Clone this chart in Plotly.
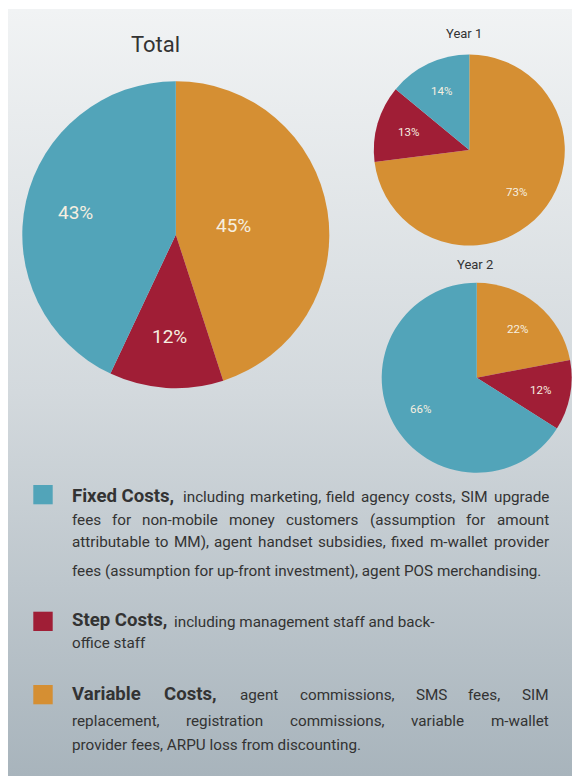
import math
import plotly.graph_objects as go

W, H = 572, 776

# slice order clockwise from 12 o'clock
labels = ["Variable Costs", "Step Costs", "Fixed Costs"]
colors = ["#d58f33", "#a01e36", "#52a4b9"]
total = [45, 12, 43]
year1 = [73, 13, 14]
year2 = [22, 12, 66]

FONT = "Roboto, sans-serif"
TXT = "#333333"
LABEL_COL = "#f6efe0"

# rough Roboto advance widths (em) used to lay out the justified legend text
EM = {" ": .248, ",": .197, ".": .263, "(": .342, ")": .348, "-": .276, "%": .732,
      "a": .544, "b": .561, "c": .523, "d": .564, "e": .529, "f": .347, "g": .561,
      "h": .551, "i": .243, "j": .239, "k": .507, "l": .243, "m": .876, "n": .552,
      "o": .570, "p": .561, "q": .568, "r": .339, "s": .516, "t": .327, "u": .551,
      "v": .484, "w": .751, "x": .496, "y": .473, "z": .496,
      "A": .653, "C": .652, "F": .552, "M": .873, "O": .688, "P": .631, "R": .616,
      "S": .593, "U": .648, "V": .637, "I": .272}


def em(s, bold=False):
    w = sum(EM.get(ch, .55) for ch in s)
    return w * (1.05 if bold else 1.0)


def px(x):
    return x / W


def py(y):
    return 1 - y / H


fig = go.Figure()

# background panel with vertical gradient
fig.add_trace(go.Scatter(
    x=[8, W, W, 8, 8], y=[0, 0, H - 9, H - 9, 0],
    mode="lines", line=dict(width=0), fill="toself",
    fillgradient=dict(type="vertical", start=0, stop=H - 9,
                      colorscale=[[0, "#a8b4bc"], [0.5, "#d3d9dd"], [1, "#f1f3f4"]]),
    hoverinfo="skip", showlegend=False))

ann = []


def txt(s, x, y, size=17, anchor="left", color=TXT):
    ann.append(dict(text=s, x=px(x), y=py(y), xref="paper", yref="paper",
                    xanchor=anchor, yanchor="middle", showarrow=False,
                    borderpad=0, borderwidth=0,
                    font=dict(family=FONT, size=size, color=color)))


def add_pie(vals, cx, cy, r, size, label_r):
    fig.add_trace(go.Pie(
        labels=labels, values=vals, sort=False, direction="clockwise", rotation=0,
        marker=dict(colors=colors, line=dict(width=0)),
        textinfo="none",
        domain=dict(x=[px(cx - r), px(cx + r)], y=[py(cy + r), py(cy - r)]),
        hoverinfo="skip", showlegend=False))
    # percentage labels along each slice's bisector
    tot = sum(vals)
    acc = 0
    for v, fr in zip(vals, label_r):
        a = 2 * math.pi * (acc + v / 2) / tot
        acc += v
        txt(f"{v}%", cx + math.sin(a) * fr * r, cy - math.cos(a) * fr * r,
            size, "center", LABEL_COL)


add_pie(total, 175.8, 234.7, 153.5, 19, [0.38, 0.665, 0.67])
add_pie(year1, 469.3, 150, 95.5, 11.5, [0.66, 0.665, 0.68])
add_pie(year2, 476.7, 377.7, 95, 11.5, [0.667, 0.68, 0.68])

# pie titles
txt("Total", 155.5, 44, 22, "center")
txt("Year 1", 464, 33.5, 13, "center")
txt("Year 2", 474.7, 264.3, 13, "center")

# legend text
LEFT, RIGHT = 71.7, 548.7
last_line = "fees (assumption for up-front investment), agent POS merchandising."
BODY = 470 / em(last_line)
BOLD = 105.6 / em("Fixed Costs,", True)

legend_lines = [
    (["*Fixed Costs,", "including", "marketing,", "field", "agency", "costs,", "SIM", "upgrade"], True),
    (["fees", "for", "non-mobile", "money", "customers", "(assumption", "for", "amount"], True),
    (["attributable", "to", "MM),", "agent", "handset", "subsidies,", "fixed", "m-wallet", "provider"], True),
    ([last_line], False),
    (["*Step Costs,", "including management staff and back-"], False),
    (["office staff"], False),
    (["*Variable", "*Costs,", "agent", "commissions,", "SMS", "fees,", "SIM"], True),
    (["replacement,", "registration", "commissions,", "variable", "m-wallet"], True),
    (["provider fees, ARPU loss from discounting."], False),
]
baselines = [502.3, 525, 547.3, 576, 626.7, 648.3, 700, 726, 750]

for (words, justify), base in zip(legend_lines, baselines):
    toks = []
    for w in words:
        bold = w.startswith("*")
        s = w.lstrip("*")
        size = BOLD if bold else BODY
        toks.append((s, bold, size, em(s, bold) * size))
    if justify:
        gap = (RIGHT - LEFT - sum(t[3] for t in toks)) / (len(toks) - 1)
    else:
        gap = em(" ") * BODY
    x = LEFT
    for i, (s, bold, size, w) in enumerate(toks):
        label = f"<b>{s}</b>" if bold else s
        if justify and i == len(toks) - 1:
            txt(label, RIGHT, base - 0.34 * size, size, "right")
        else:
            txt(label, x, base - 0.34 * size, size, "left")
        x += w + gap

# legend swatches
swatches = [("#52a4b9", 485), ("#a01e36", 611.7), ("#d58f33", 685)]
shapes = []
for c, top in swatches:
    shapes.append(dict(type="rect", xref="paper", yref="paper",
                       x0=px(33.3), x1=px(52.7), y0=py(top + 19.3), y1=py(top),
                       fillcolor=c, line=dict(width=0)))

fig.update_layout(
    width=W, height=H, margin=dict(l=0, r=0, t=0, b=0),
    paper_bgcolor="white", plot_bgcolor="rgba(0,0,0,0)",
    xaxis=dict(range=[0, W], visible=False, fixedrange=True),
    yaxis=dict(range=[0, H], visible=False, fixedrange=True),
    annotations=ann, shapes=shapes, showlegend=False,
)

fig.write_html("out.html", config={"displayModeBar": False},
               post_script="document.body.style.margin='0';document.body.style.overflow='hidden';")
